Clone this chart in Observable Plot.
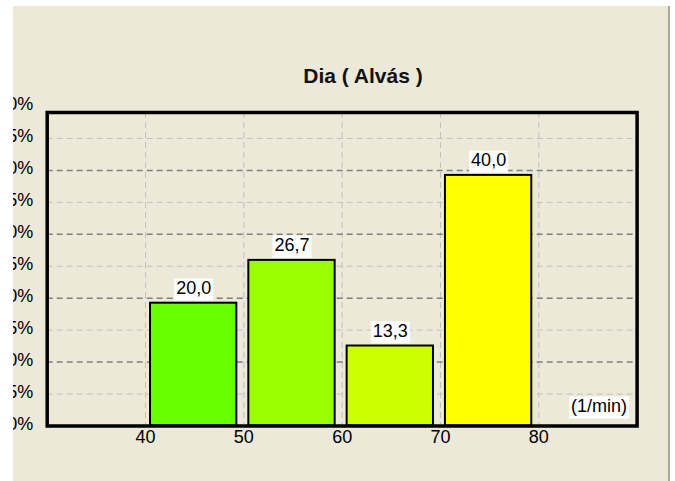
<!DOCTYPE html>
<html>
<head>
<meta charset="utf-8">
<script src="https://cdn.jsdelivr.net/npm/d3@7"></script>
<script src="https://cdn.jsdelivr.net/npm/@observablehq/plot@0.6"></script>
<style>
  html, body { margin: 0; padding: 0; background: #ffffff; width: 675px; height: 481px; overflow: hidden; }
  #panel { position: absolute; left: 13px; top: 6px; width: 655px; height: 475px; background: #ECE9D8; overflow: hidden; border-right: 2px solid #aca899; }
  #title { position: absolute; left: 250px; width: 200px; top: 58px; text-align: center; font: bold 21px "Liberation Sans", Arial, sans-serif; color: #111; line-height: 24px; }
</style>
</head>
<body>
<div id="panel"><div id="title"></div></div>
<script>
// ---- data ----
const title = "Dia ( Alvás )";
const unitLabel = "(1/min)";
const binStarts = [40, 50, 60, 70];
const binEnds = [50, 60, 70, 80];
const values = [20.0, 26.7, 13.3, 40.0];
const barColors = ["#66ff00", "#99ff00", "#ccff00", "#ffff00"];
const xTicks = [40, 50, 60, 70, 80];
const yTicks = [0, 5, 10, 15, 20, 25, 30, 35, 40, 45, 50];
const yMajorGrid = [10, 20, 30, 40];
const yMinorGrid = [5, 15, 25, 35, 45];

const bars = values.map((v, i) => ({x1: binStarts[i], x2: binEnds[i], value: v, color: barColors[i]}));
const fmt = v => v.toFixed(1).replace(".", ",");

document.getElementById("title").textContent = title;

const svg = Plot.plot({
  width: 655,
  height: 475,
  marginLeft: 33.7,
  marginRight: 31.4,
  marginTop: 106,
  marginBottom: 55.5,
  style: {background: "transparent", fontFamily: "'Liberation Sans', Arial, sans-serif", fontSize: "18px", color: "#000", overflow: "visible"},
  x: {domain: [30, 90]},
  y: {domain: [0, 49.06]},
  marks: [
    Plot.gridX(xTicks, {stroke: "#c0c0c0", strokeOpacity: 1, strokeDasharray: "6,4", strokeWidth: 1}),
    Plot.gridY(yMinorGrid, {stroke: "#c0c0c0", strokeOpacity: 1, strokeDasharray: "6,4", strokeWidth: 1}),
    Plot.gridY(yMajorGrid, {stroke: "#808080", strokeOpacity: 1, strokeDasharray: "6,4", strokeWidth: 1.5}),
    Plot.rectY(bars, {x1: "x1", x2: "x2", y1: 0, y2: "value", fill: "color", stroke: "#000", strokeWidth: 2, insetLeft: 5, insetRight: 7, insetTop: 5}),
    Plot.text(bars, {x: d => (d.x1 + d.x2) / 2, y: "value", text: d => fmt(d.value), dx: -1, dy: -10, fill: "#000", fontSize: 18}),
    Plot.text([unitLabel], {frameAnchor: "bottom-right", textAnchor: "end", dx: -10, dy: -14, fill: "#000", fontSize: 18}),
    Plot.frame({stroke: "#000", strokeWidth: 3.5}),
    Plot.axisX(xTicks, {tickSize: 0, tickPadding: 4, fontSize: 18, fill: "#000", label: null}),
    Plot.axisY(yTicks, {tickSize: 0, tickPadding: 14, dy: -2, tickFormat: d => d + "%", fontSize: 18, fill: "#000", label: null})
  ]
});

document.getElementById("panel").appendChild(svg);
svg.style.position = "absolute";
svg.style.left = "0px";
svg.style.top = "0px";

// white background boxes behind the value labels and unit label
svg.querySelectorAll('g[aria-label="text"] text').forEach(t => {
  const b = t.getBBox();
  const r = document.createElementNS("http://www.w3.org/2000/svg", "rect");
  r.setAttribute("x", b.x - 2);
  r.setAttribute("y", b.y + 0.5);
  r.setAttribute("width", b.width + 4);
  r.setAttribute("height", b.height + 2);
  r.setAttribute("fill", "#ffffff");
  const tr = t.getAttribute("transform");
  if (tr) r.setAttribute("transform", tr);
  t.parentNode.insertBefore(r, t);
});
</script>
</body>
</html>
